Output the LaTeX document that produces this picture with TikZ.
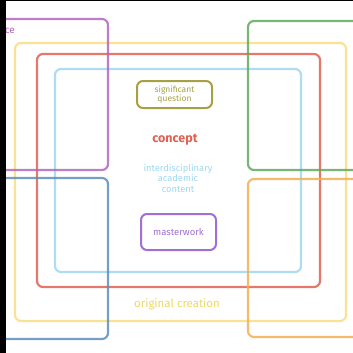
\documentclass[tikz,border=0pt]{standalone}
\usepackage{fontspec}
\setmainfont{Fira Sans}
\definecolor{cpurple}{RGB}{176,104,190}
\definecolor{cgreen}{RGB}{96,170,92}
\definecolor{cyellow}{RGB}{250,222,130}
\definecolor{cred}{RGB}{226,96,82}
\definecolor{clblue}{RGB}{160,216,240}
\definecolor{cblue}{RGB}{96,142,186}
\definecolor{corange}{RGB}{244,176,82}
\definecolor{colive}{RGB}{168,160,70}
\definecolor{cmpurple}{RGB}{160,112,210}
\definecolor{ctyellow}{RGB}{240,216,100}
\begin{document}
\begin{tikzpicture}[x=1pt,y=-1pt,
  frame/.style={line width=2.2pt,rounded corners=6pt,draw opacity=0.85},
  inbox/.style={draw,line width=2pt,rounded corners=6pt,inner sep=0pt,align=center}]
\fill[black] (0,0) rectangle (353,353);
\fill[white] (6,1.5) rectangle (353,353);
\begin{scope}
\clip (6,1.5) rectangle (353,353);
\draw[frame,cyellow] (15,43) rectangle (346,321);
\draw[frame,cred] (37,54) rectangle (320,287);
\draw[frame,clblue] (55,69) rectangle (301,272);
\draw[frame,cpurple] (-20,19) rectangle (108,170);
\draw[frame,cgreen] (248,21) rectangle (380,170);
\draw[frame,cblue] (-20,178) rectangle (108,339);
\draw[frame,corange] (248,179) rectangle (380,337);
\node[anchor=east,text=cpurple,font=\fontsize{10}{12}\selectfont,inner sep=0pt] (ce) at (15,31) {ce};
\end{scope}
\node[inbox,colive,text=colive,minimum width=75pt,minimum height=27pt,font=\fontsize{8.5}{9.5}\selectfont] (sq) at (174.5,94.5) {significant\\question};
\node[text=cred,font=\fontsize{12.5}{14}\selectfont\bfseries] (concept) at (175,140) {concept};
\node[text=clblue,align=center,font=\fontsize{9.3}{10.5}\selectfont] (iac) at (178,178) {interdisciplinary\\academic\\content};
\node[inbox,cmpurple,text=cmpurple,minimum width=75pt,minimum height=36pt,font=\fontsize{9.5}{11}\selectfont] (mw) at (178.5,232) {masterwork};
\node[text=ctyellow,font=\fontsize{11.5}{13}\selectfont] (oc) at (177,304) {original creation};
\end{tikzpicture}
\end{document}
